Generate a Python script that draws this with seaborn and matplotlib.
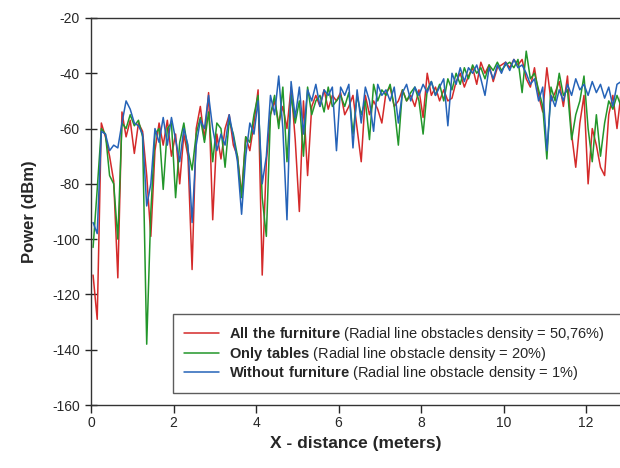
import numpy as np
import pandas as pd
import matplotlib
matplotlib.use("Agg")
import matplotlib.pyplot as plt
import seaborn as sns

# sampling positions along the radial line (m)
distance = np.round(np.arange(0.05, 12.9, 0.1), 2)

# All the furniture
power_all = [
    -113, -129, -58, -63, -70, -79, -114, -54, -63, -57,
    -69, -58, -61, -77, -99, -68, -58, -66, -57, -70,
    -62, -80, -62, -70, -111, -60, -52, -64, -47, -93,
    -62, -71, -60, -55, -66, -70, -84, -63, -68, -58,
    -46, -113, -72, -55, -50, -58, -52, -60, -45, -64,
    -90, -50, -77, -52, -48, -52, -46, -53, -48, -50,
    -47, -55, -52, -48, -60, -72, -48, -55, -50, -53,
    -58, -47, -45, -52, -50, -46, -50, -48, -52, -46,
    -56, -40, -48, -45, -50, -46, -50, -49, -43, -40,
    -45, -41, -38, -44, -36, -40, -37, -43, -38, -37,
    -36, -38, -35, -37, -35, -42, -45, -38, -48, -54,
    -38, -50, -47, -43, -52, -41, -62, -74, -58, -48,
    -80, -60, -66, -74, -77, -55, -48, -60, -47,
]

# Only tables
power_tables = [
    -103, -82, -60, -62, -77, -80, -100, -58, -60, -55,
    -59, -57, -63, -138, -90, -62, -60, -82, -60, -58,
    -85, -65, -58, -68, -75, -62, -56, -65, -54, -72,
    -58, -60, -74, -57, -62, -70, -85, -63, -65, -55,
    -48, -85, -99, -55, -48, -60, -45, -72, -48, -58,
    -50, -70, -45, -55, -50, -48, -54, -45, -52, -50,
    -48, -52, -47, -62, -48, -55, -50, -64, -44, -50,
    -46, -48, -44, -52, -66, -46, -50, -47, -45, -50,
    -62, -46, -43, -48, -44, -50, -42, -46, -40, -44,
    -38, -42, -37, -40, -38, -42, -37, -39, -36, -39,
    -37, -36, -38, -35, -47, -32, -42, -40, -46, -52,
    -71, -45, -50, -40, -48, -46, -64, -55, -50, -41,
    -60, -72, -55, -70, -58, -50, -53, -48, -52,
]

# Without furniture
power_none = [
    -94, -98, -61, -62, -68, -66, -67, -58, -50, -53,
    -58, -59, -62, -88, -80, -60, -65, -56, -66, -56,
    -64, -72, -60, -66, -94, -66, -57, -60, -48, -60,
    -68, -62, -66, -55, -63, -72, -91, -70, -58, -62,
    -50, -80, -70, -48, -55, -41, -60, -93, -43, -56,
    -45, -62, -46, -50, -44, -52, -46, -48, -45, -68,
    -45, -48, -44, -67, -46, -58, -45, -50, -61, -44,
    -48, -46, -50, -45, -58, -47, -44, -50, -45, -48,
    -44, -47, -43, -48, -45, -42, -59, -40, -44, -38,
    -43, -38, -40, -37, -42, -48, -38, -42, -37, -40,
    -36, -39, -35, -38, -37, -40, -44, -42, -50, -45,
    -68, -48, -52, -46, -50, -44, -48, -42, -46, -44,
    -48, -43, -47, -44, -49, -45, -52, -44, -43,
]

sns.set_style("ticks")
plt.rcParams["font.family"] = ["Liberation Sans", "DejaVu Sans"]
plt.rcParams["mathtext.fontset"] = "custom"
plt.rcParams["mathtext.rm"] = "Liberation Sans"
plt.rcParams["mathtext.bf"] = "Liberation Sans:bold"
plt.rcParams["axes.unicode_minus"] = False

fig = plt.figure(figsize=(6.2, 4.68), dpi=100)
ax = fig.add_axes([0.1468, 0.1346, 0.855, 0.827])

sns.lineplot(x=distance, y=power_all, color="#d42a2a", linewidth=1.1, ax=ax,
             label=r"$\bf{All\ the\ furniture}$ (Radial line obstacles density = 50,76%)")
sns.lineplot(x=distance, y=power_tables, color="#22962a", linewidth=1.1, ax=ax,
             label=r"$\bf{Only\ tables}$ (Radial line obstacle density = 20%)")
sns.lineplot(x=distance, y=power_none, color="#2563b8", linewidth=1.1, ax=ax,
             label=r"$\bf{Without\ furniture}$ (Radial line obstacle density = 1%)")

ax.set_xlim(0, 12.85)
ax.set_ylim(-160, -20)
ax.set_xticks([0, 2, 4, 6, 8, 10, 12])
ax.set_yticks(np.arange(-160, -19, 20))
ax.tick_params(axis="y", direction="inout", length=9, width=1, labelsize=10)
ax.tick_params(axis="x", direction="out", length=6, width=1, labelsize=10, pad=2)
for s in ax.spines.values():
    s.set_linewidth(1.0)
    s.set_color("#333333")

ax.set_xlabel("X - distance (meters)", fontsize=12.5, fontweight="bold", labelpad=4)
ax.set_ylabel("Power (dBm)", fontsize=12, fontweight="bold", labelpad=11)

leg = ax.legend(loc="lower left", bbox_to_anchor=(0.1545, 0.031, 0.87, 0),
                mode="expand", fontsize=10.5, frameon=True, fancybox=False,
                handlelength=2.4, handletextpad=0.7, borderpad=0.75,
                labelspacing=0.1, borderaxespad=0)
leg.get_frame().set_edgecolor("#333333")
leg.get_frame().set_linewidth(1.0)

fig.savefig("out.png", dpi=100)
